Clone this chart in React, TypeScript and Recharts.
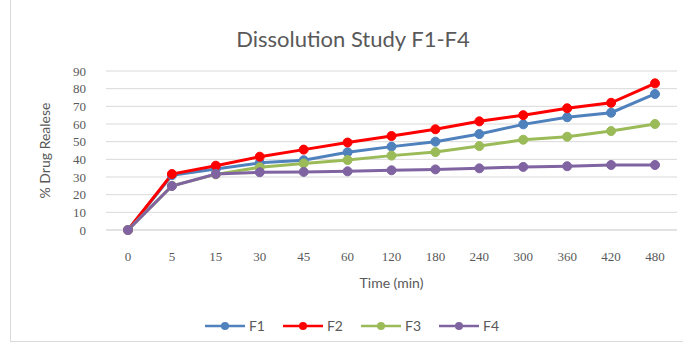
import { CartesianGrid, Line, LineChart, XAxis, YAxis } from "recharts";

const TIMES = ["0", "5", "15", "30", "45", "60", "120", "180", "240", "300", "360", "420", "480"];
const F1 = [0, 31, 34.5, 38, 39.5, 44, 47.2, 50, 54.3, 59.8, 63.8, 66.4, 77];
const F2 = [0, 31.7, 36.4, 41.5, 45.5, 49.5, 53.2, 57, 61.5, 65, 68.9, 72, 83];
const F3 = [0, 25, 31.5, 35.5, 37.7, 39.6, 42.1, 44.1, 47.5, 51.1, 52.8, 56, 60];
const F4 = [0, 24.9, 31.7, 32.7, 32.9, 33.2, 33.8, 34.3, 34.9, 35.7, 36.1, 36.8, 36.8];
const Y_TICKS = [0, 10, 20, 30, 40, 50, 60, 70, 80, 90];

const SERIES = [
  { key: "F1", color: "#4f81bd" },
  { key: "F2", color: "#ff0000" },
  { key: "F3", color: "#9bbb59" },
  { key: "F4", color: "#8064a2" },
];

const data = TIMES.map((t, i) => ({ time: t, F1: F1[i], F2: F2[i], F3: F3[i], F4: F4[i] }));

const TEXT = "#595959";
const SANS = "Lato, 'Open Sans', sans-serif";
const SERIF = "'Liberation Serif', serif";

function ChartLegend() {
  return (
    <div
      style={{
        position: "absolute",
        top: 317,
        left: 10,
        width: 684,
        display: "flex",
        justifyContent: "center",
        gap: 18,
        fontFamily: SANS,
        fontSize: 14,
        color: TEXT,
      }}
    >
      {SERIES.map((s) => (
        <div key={s.key} style={{ display: "flex", alignItems: "center", gap: 4 }}>
          <svg width={40} height={10}>
            <line x1={0} y1={5} x2={40} y2={5} stroke={s.color} strokeWidth={2.5} />
            <circle cx={20} cy={5} r={4} fill={s.color} />
          </svg>
          <span>{s.key}</span>
        </div>
      ))}
    </div>
  );
}

export default function App() {
  return (
    <div style={{ position: "absolute", left: 0, top: 0, width: 684, height: 342, background: "#fff" }}>
      <div
        style={{
          position: "absolute",
          left: 10,
          top: 0,
          width: 672,
          height: 341,
          borderLeft: "1px solid #d9d9d9",
          borderBottom: "1px solid #d9d9d9",
        }}
      />
      <div
        style={{
          position: "absolute",
          top: 25,
          left: 0,
          width: 706,
          textAlign: "center",
          fontFamily: SANS,
          fontSize: 22,
          color: TEXT,
        }}
      >
        Dissolution Study F1-F4
      </div>
      <LineChart width={684} height={342} data={data} margin={{ top: 71, right: 7, left: 0, bottom: 42 }}>
        <CartesianGrid vertical={false} stroke="#d9d9d9" />
        <XAxis
          dataKey="time"
          padding={{ left: 22, right: 22 }}
          axisLine={{ stroke: "#d9d9d9" }}
          tickLine={false}
          height={70}
          tickMargin={16}
          tick={{ fontSize: 13, fill: TEXT, fontFamily: SERIF }}
          interval={0}
          label={{ value: "Time (min)", position: "insideBottom", offset: 12, fontFamily: SANS, fontSize: 14, fill: TEXT }}
        />
        <YAxis
          width={106}
          domain={[0, 90]}
          ticks={Y_TICKS}
          interval={0}
          axisLine={false}
          tickLine={false}
          tickMargin={14}
          tick={{ fontSize: 13, fill: TEXT, fontFamily: SERIF }}
          label={{
            value: "% Drug Realese",
            angle: -90,
            position: "insideLeft",
            offset: 45,
            style: { textAnchor: "middle" },
            fontFamily: SANS,
            fontSize: 14,
            fill: TEXT,
          }}
        />
        {SERIES.map((s) => (
          <Line
            key={s.key}
            type="linear"
            dataKey={s.key}
            stroke={s.color}
            strokeWidth={3}
            dot={{ r: 4.5, fill: s.color, stroke: s.color, strokeWidth: 1 }}
            activeDot={false}
            isAnimationActive={false}
          />
        ))}
      </LineChart>
      <ChartLegend />
    </div>
  );
}
